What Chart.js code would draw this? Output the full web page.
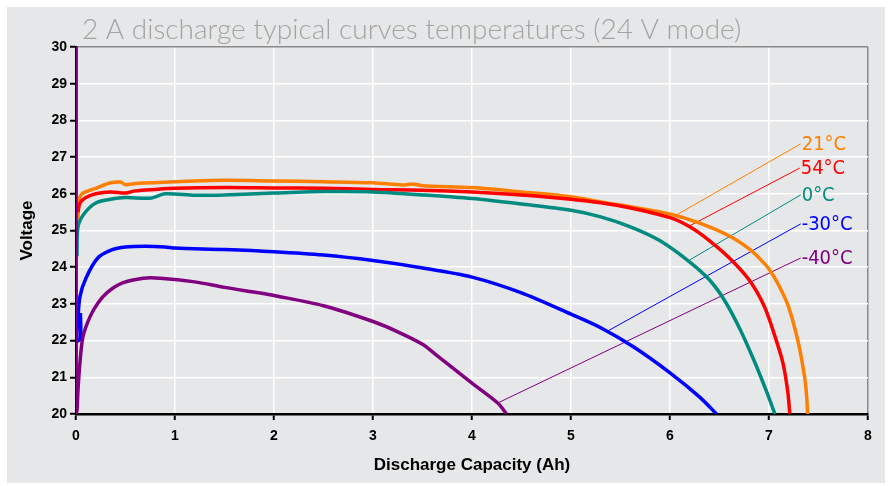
<!DOCTYPE html>
<html>
<head>
<meta charset="utf-8">
<script src="https://cdn.jsdelivr.net/npm/chart.js@4"></script>
<style>
  html, body { margin: 0; padding: 0; background: #fff; }
  canvas { display: block; }
</style>
</head>
<body>
<canvas id="dischargeChart" width="890" height="486"></canvas>
<script>
// -----------------------
// Data
// -----------------------
const chartTitle = '2 A discharge typical curves temperatures (24 V mode)';
const xTitle = 'Discharge Capacity (Ah)';
const yTitle = 'Voltage';

const seriesNames = ['21°C', '54°C', '0°C', '-30°C', '-40°C'];
const seriesColors = ['#ff7f00', '#ff0000', '#008b80', '#0000ff', '#800080'];

const cap21 = [0.02, 0.03, 0.06, 0.2, 0.35, 0.45, 0.5, 0.6, 1.0, 1.5, 2.0, 2.5, 3.0, 3.3, 3.4, 3.5, 4.0, 4.5, 5.0, 5.3, 5.6, 6.0, 6.3, 6.6, 6.8, 6.9, 7.0, 7.1, 7.2, 7.3, 7.36, 7.38, 7.39];
const volt21 = [25.3, 25.8, 26.0, 26.15, 26.3, 26.32, 26.25, 26.28, 26.33, 26.37, 26.35, 26.33, 26.3, 26.24, 26.27, 26.22, 26.17, 26.05, 25.92, 25.78, 25.65, 25.45, 25.2, 24.85, 24.5, 24.25, 23.95, 23.5, 22.9, 21.9, 21.0, 20.5, 20.0];

const cap54 = [0.02, 0.04, 0.1, 0.2, 0.35, 0.5, 0.6, 0.8, 1.0, 1.5, 2.0, 2.5, 3.0, 3.5, 4.0, 4.5, 5.0, 5.5, 6.0, 6.2, 6.4, 6.6, 6.8, 6.95, 7.05, 7.14, 7.19, 7.21];
const volt54 = [25.5, 25.75, 25.9, 26.0, 26.05, 26.02, 26.08, 26.12, 26.15, 26.17, 26.16, 26.15, 26.12, 26.1, 26.05, 25.97, 25.85, 25.67, 25.35, 25.1, 24.72, 24.25, 23.65, 22.95, 22.2, 21.4, 20.6, 20.0];

const cap0 = [0.01, 0.02, 0.08, 0.2, 0.35, 0.5, 0.75, 0.9, 1.2, 1.5, 2.0, 2.5, 3.0, 3.5, 4.0, 4.5, 5.0, 5.3, 5.6, 5.9, 6.2, 6.4, 6.55, 6.7, 6.85, 6.97, 7.06];
const volt0 = [24.3, 25.1, 25.45, 25.75, 25.85, 25.9, 25.88, 26.0, 25.96, 25.97, 26.02, 26.06, 26.05, 25.97, 25.87, 25.72, 25.55, 25.37, 25.1, 24.72, 24.14, 23.65, 23.1, 22.35, 21.45, 20.65, 20.0];

const capM30 = [0.045, 0.045, 0.01, 0.02, 0.04, 0.1, 0.22, 0.36, 0.5, 0.7, 0.9, 1.0, 1.5, 2.0, 2.5, 3.0, 3.5, 4.0, 4.5, 5.0, 5.3, 5.63, 6.0, 6.3, 6.47];
const voltM30 = [22.75, 22.05, 22.0, 22.6, 23.2, 23.7, 24.25, 24.47, 24.55, 24.57, 24.55, 24.52, 24.48, 24.42, 24.33, 24.18, 23.98, 23.73, 23.3, 22.72, 22.35, 21.83, 21.12, 20.46, 20.0];

const capM40 = [0, 0, 0.01, 0.02, 0.04, 0.07, 0.14, 0.22, 0.32, 0.47, 0.68, 0.85, 1.2, 1.5, 1.85, 2.0, 2.5, 3.0, 3.25, 3.5, 3.66, 4.0, 4.26, 4.35];
const voltM40 = [30, 20, 20.1, 20.65, 21.4, 22.1, 22.64, 23.02, 23.32, 23.57, 23.7, 23.7, 23.6, 23.45, 23.3, 23.23, 22.95, 22.52, 22.24, 21.9, 21.56, 20.84, 20.3, 20.0];

// leader lines: [capacity, voltage] at the curve and at the label
const leaderCurveCap = [6.05, 6.18, 6.2, 5.37, 4.26];
const leaderCurveVolt = [25.4, 25.1, 24.2, 22.26, 20.3];
const leaderLabelCap = [7.32, 7.31, 7.32, 7.32, 7.32];
const leaderLabelVolt = [27.36, 26.7, 25.97, 25.18, 24.25];

const xTicks = [0, 8, 1];   // min, max, step
const yTicks = [20, 30, 1];

// -----------------------
// Build datasets
// -----------------------
function toPoints(xs, ys) {
  return xs.map((x, i) => ({ x: x, y: ys[i] }));
}

const curves = [
  toPoints(cap21, volt21),
  toPoints(cap54, volt54),
  toPoints(cap0, volt0),
  toPoints(capM30, voltM30),
  toPoints(capM40, voltM40)
];

const datasets = [];
seriesNames.forEach((name, i) => {
  datasets.push({
    label: 'leader ' + name,
    data: [
      { x: leaderCurveCap[i], y: leaderCurveVolt[i] },
      { x: leaderLabelCap[i], y: leaderLabelVolt[i] }
    ],
    borderColor: seriesColors[i],
    borderWidth: 1,
    showLine: true,
    pointRadius: 0,
    order: 2
  });
});
// draw the -40 curve first so the warmer ones sit on top like the reference
for (let i = curves.length - 1; i >= 0; i--) {
  datasets.push({
    label: seriesNames[i],
    data: curves[i],
    borderColor: seriesColors[i],
    borderWidth: 3.5,
    showLine: true,
    pointRadius: 0,
    tension: 0.3,
    borderJoinStyle: 'round',
    borderCapStyle: 'butt',
    order: 1
  });
}

// -----------------------
// Plugins: panel, title, labels
// -----------------------
const panelPlugin = {
  id: 'panel',
  beforeDraw(chart) {
    const ctx = chart.ctx;
    ctx.save();
    ctx.fillStyle = '#ffffff';
    ctx.fillRect(0, 0, chart.width, chart.height);
    ctx.fillStyle = '#e6e7e8';
    ctx.fillRect(7, 7, 878, 476);
    ctx.restore();
  },
  afterDraw(chart) {
    const ctx = chart.ctx;
    const xs = chart.scales.x, ys = chart.scales.y;
    ctx.save();
    ctx.fillStyle = '#a3a3a3';
    ctx.font = '300 28px Lato';
    ctx.textBaseline = 'alphabetic';
    ctx.textAlign = 'left';
    ctx.fillText(chartTitle, 82, 39);

    ctx.font = '20px "DejaVu Sans Condensed", "DejaVu Sans"';
    ctx.textBaseline = 'middle';
    seriesNames.forEach((name, i) => {
      ctx.fillStyle = seriesColors[i];
      ctx.fillText(name, xs.getPixelForValue(leaderLabelCap[i]) + 1, ys.getPixelForValue(leaderLabelVolt[i]) + 1);
    });
    ctx.restore();
  }
};

// -----------------------
// Chart
// -----------------------
const tickFont = { family: 'Liberation Sans', size: 14, weight: 'bold' };

new Chart(document.getElementById('dischargeChart'), {
  type: 'scatter',
  data: { datasets: datasets },
  options: {
    responsive: false,
    animation: false,
    events: [],
    layout: { padding: { left: 8, right: 22, top: 47, bottom: 3 } },
    plugins: {
      legend: { display: false },
      tooltip: { enabled: false },
      title: { display: false }
    },
    scales: {
      x: {
        type: 'linear',
        min: xTicks[0],
        max: xTicks[1],
        ticks: { stepSize: xTicks[2], color: '#000', font: tickFont, padding: 8 },
        grid: {
          color: c => c.tick.value === xTicks[1] ? '#8a8a8a' : '#ffffff',
          lineWidth: 1.5,
          tickLength: 6,
          tickColor: '#000',
          tickWidth: 2
        },
        border: { display: true, color: '#000', width: 2.5 },
        title: {
          display: true,
          text: xTitle,
          color: '#000',
          font: { family: 'Liberation Sans', size: 17, weight: 'bold' },
          padding: { top: 0, bottom: 7 }
        },
        afterFit: s => { s.height = 69; }
      },
      y: {
        type: 'linear',
        min: yTicks[0],
        max: yTicks[1],
        ticks: { stepSize: yTicks[2], color: '#000', font: tickFont, padding: 3 },
        grid: {
          color: c => c.tick.value === yTicks[1] ? '#8a8a8a' : '#ffffff',
          lineWidth: 1.5,
          tickLength: 6,
          tickColor: '#000',
          tickWidth: 2
        },
        border: { display: true, color: '#000', width: 2.5 },
        title: {
          display: true,
          text: yTitle,
          color: '#000',
          font: { family: 'Liberation Sans', size: 17, weight: 'bold' },
          padding: { top: 9, bottom: 0 }
        },
        afterFit: s => { s.width = 68; }
      }
    }
  },
  plugins: [panelPlugin]
});
</script>
</body>
</html>
